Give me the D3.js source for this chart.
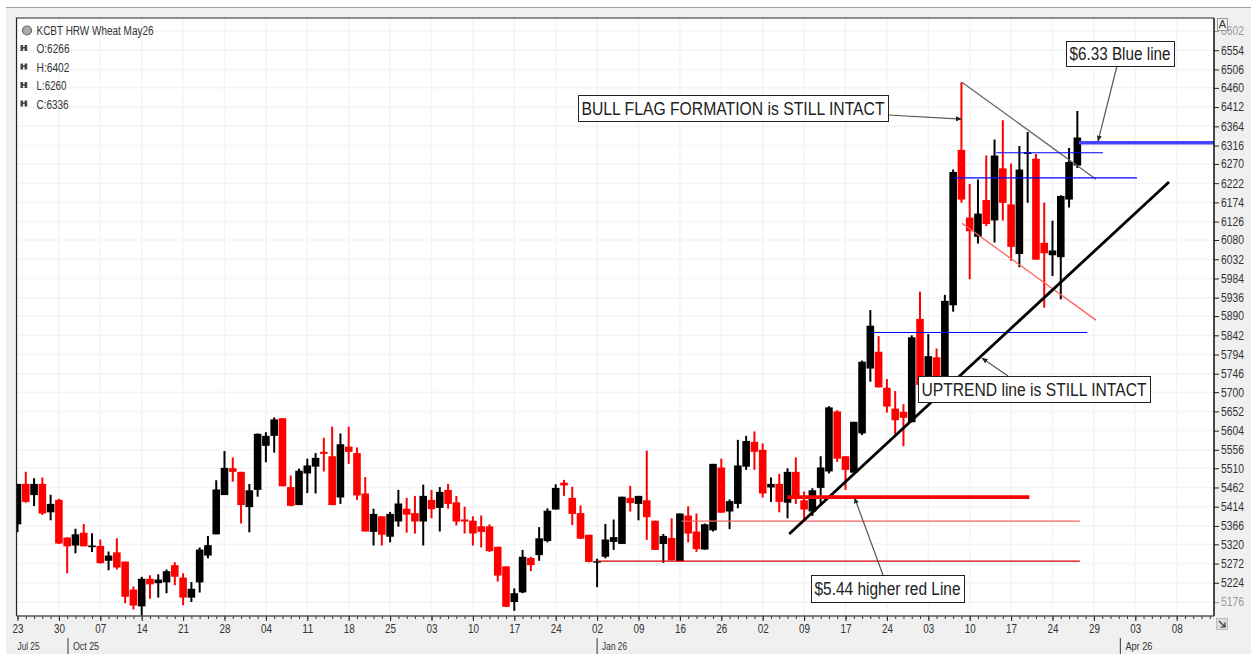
<!DOCTYPE html>
<html lang="en">

<head>
    <meta charset="UTF-8">
    <title>KCBT HRW Wheat May26</title>
    <style>
        html, body { margin: 0; padding: 0; background: #fff; }
        svg { display: block; }
        text { font-family: "Liberation Sans", sans-serif; }
    </style>
</head>

<body>
    <svg width="1251" height="654" id="svg"></svg>
    <script src="https://d3js.org/d3.v7.min.js"></script>
    <script>
        const opens = [5370,5471,5443,5471,5400,5431,5337,5317,5349,5313,5316,5279,5300,5277,5207,5165,5234,5223,5225,5268,5237,5187,5225,5292,5345,5443,5510,5501,5413,5456,5566,5591,5635,5463,5418,5497,5514,5551,5540,5437,5564,5548,5447,5351,5390,5339,5377,5409,5398,5377,5431,5411,5456,5425,5382,5379,5365,5365,5314,5265,5176,5200,5286,5293,5328,5407,5474,5436,5398,5344,5276,5289,5326,5321,5436,5421,5430,5379,5321,5336,5278,5392,5352,5307,5355,5512,5402,5421,5514,5576,5556,5462,5471,5424,5501,5430,5402,5461,5502,5652,5540,5499,5597,5759,5801,5711,5659,5651,5625,5883,5718,5787,5718,5917,6305,6136,6088,6180,6129,6259,6169,6045,6295,6283,6073,6042,6037,6181,6266]
        const highs = [5471,5501,5485,5487,5444,5434,5337,5359,5371,5348,5332,5302,5335,5277,5215,5239,5243,5245,5257,5275,5248,5226,5312,5341,5480,5553,5537,5501,5471,5597,5600,5637,5635,5492,5509,5534,5548,5586,5614,5597,5614,5562,5488,5409,5390,5401,5456,5436,5441,5469,5456,5463,5471,5441,5414,5390,5392,5370,5314,5265,5210,5306,5289,5363,5410,5470,5481,5464,5417,5344,5284,5371,5382,5439,5466,5441,5554,5379,5346,5385,5397,5415,5397,5372,5521,5534,5432,5581,5591,5602,5572,5487,5496,5510,5537,5452,5460,5540,5665,5655,5540,5626,5779,5905,5840,5733,5703,5670,5842,5951,5845,5809,5943,6256,6474,6220,6231,6291,6331,6379,6271,6315,6350,6295,6174,6128,6192,6310,6402]
        const lows = [5350,5424,5416,5393,5380,5321,5248,5298,5315,5301,5272,5255,5257,5173,5157,5141,5184,5187,5198,5218,5168,5176,5200,5285,5345,5443,5476,5372,5350,5439,5525,5549,5465,5415,5418,5448,5447,5502,5418,5421,5521,5431,5352,5317,5317,5325,5364,5349,5347,5317,5385,5352,5409,5367,5347,5317,5312,5301,5227,5164,5154,5198,5253,5279,5325,5407,5441,5368,5334,5275,5213,5285,5306,5321,5402,5380,5331,5306,5274,5280,5278,5325,5301,5307,5352,5399,5358,5410,5506,5506,5437,5426,5400,5385,5421,5381,5391,5418,5497,5526,5456,5499,5593,5726,5712,5649,5595,5565,5625,5718,5718,5718,5718,5901,6173,5982,6071,6115,6074,6129,6028,6012,6173,6031,5911,5990,5932,6161,6260]
        const closes = [5471,5426,5471,5397,5421,5322,5315,5345,5315,5317,5273,5292,5262,5189,5167,5234,5220,5232,5253,5239,5187,5209,5307,5318,5457,5511,5501,5418,5455,5596,5591,5632,5465,5416,5504,5517,5536,5546,5418,5570,5551,5442,5352,5396,5344,5396,5422,5394,5377,5441,5408,5451,5421,5377,5377,5347,5351,5303,5242,5164,5198,5289,5268,5335,5404,5461,5467,5396,5334,5276,5278,5332,5338,5439,5423,5441,5388,5306,5341,5280,5397,5347,5308,5370,5521,5399,5428,5517,5578,5551,5447,5471,5426,5501,5434,5407,5455,5512,5662,5534,5506,5626,5776,5866,5712,5664,5630,5636,5837,5718,5790,5718,5928,6250,6181,6102,6146,6120,6291,6173,6063,6256,6299,6031,6047,6054,6190,6275,6336]

        const priceTicks = [6602,6554,6506,6460,6412,6364,6316,6270,6222,6174,6126,6080,6032,5984,5936,5890,5842,5794,5746,5700,5652,5604,5556,5510,5462,5414,5366,5320,5272,5224,5176]
        const dayLabels = ["23","30","07","14","21","28","04","11","18","25","03","10","17","24","02","09","16","26","02","09","17","24","03","10","17","24","29","03","08"]
        const monthLabels = ["Jul 25", "Oct 25", "Jan 26", "Apr 26"]
        const monthSessions = [-0.6, 6.1, 70, 133.2]

        // [session, price, session, price]
        const blueLevels = [[103.1, 5849, 129.2, 5849], [113.1, 6235, 135.2, 6235], [118.2, 6298, 131.1, 6298]]
        const blueThick = [128.2, 6323, 144.5, 6323]
        const redThin = [[70, 5278, 128.3, 5278]]
        const redFaint = [[80.2, 5378, 128.3, 5378], [114.06, 6122, 130.25, 5880]]
        const redThick = [93, 5438, 122.2, 5438]
        const flagTop = [114.06, 6474, 130.25, 6232]
        const uptrend = [93.2, 5346, 139.07, 6225]

        const svg = d3.select("svg#svg")
        const width = +svg.attr("width")
        const height = +svg.attr("height")
        const plot = { left: 16.5, right: 1214, top: 18, bottom: 616 }

        const xScale = d3.scaleLinear().domain([0, 144.5]).range([17.5, 17.5 + 8.28 * 144.5])
        const yScale = d3.scaleLinear().domain([5176, 6602]).range([602, 31])

        // the reference text is narrower than any installed face, so squeeze it to the measured width
        const squeeze = (sel, w) => sel.attr("textLength", w).attr("lengthAdjust", "spacingAndGlyphs")

        svg.append("rect").attr("x", 6).attr("y", 7).attr("width", width - 6).attr("height", height - 7).attr("fill", "#f0f0f0")
        svg.append("line").attr("x1", 6).attr("x2", width).attr("y1", 7.5).attr("y2", 7.5).attr("stroke", "#a0a0a0")
        svg.append("rect").attr("x", plot.left).attr("y", plot.top).attr("width", plot.right - plot.left).attr("height", plot.bottom - plot.top).attr("fill", "#fff")
        svg.append("clipPath").attr("id", "plotClip").append("rect").attr("x", plot.left).attr("y", plot.top).attr("width", plot.right - plot.left).attr("height", plot.bottom - plot.top)

        // grid
        const grid = svg.append("g").attr("stroke", "#f4f4f4").attr("stroke-width", 1.5)
        grid.selectAll(".gy").data(priceTicks).join("line").attr("x1", plot.left).attr("x2", plot.right).attr("y1", d => yScale(d)).attr("y2", d => yScale(d))
        grid.selectAll(".gx").data(dayLabels).join("line").attr("y1", plot.top).attr("y2", plot.bottom).attr("x1", (d, i) => xScale(i * 5)).attr("x2", (d, i) => xScale(i * 5))

        // candles
        const sessions = d3.range(closes.length)
        const colour = i => closes[i] >= opens[i] ? "#000" : "#ff0000"
        const candles = svg.append("g").attr("clip-path", "url(#plotClip)")
        candles.selectAll(".wick").data(sessions).join("line")
            .attr("x1", i => xScale(i)).attr("x2", i => xScale(i))
            .attr("y1", i => yScale(highs[i])).attr("y2", i => yScale(lows[i]))
            .attr("stroke", colour).attr("stroke-width", 2)
        candles.selectAll(".body").data(sessions).join("rect")
            .attr("x", i => xScale(i) - 3.8).attr("width", 7.6)
            .attr("y", i => yScale(Math.max(opens[i], closes[i])))
            .attr("height", i => Math.max(1.5, Math.abs(yScale(opens[i]) - yScale(closes[i]))))
            .attr("fill", colour)

        // drawn lines
        const drawLine = (p, stroke, w) => svg.append("line")
            .attr("x1", xScale(p[0])).attr("y1", yScale(p[1]))
            .attr("x2", xScale(p[2])).attr("y2", yScale(p[3]))
            .attr("stroke", stroke).attr("stroke-width", w)
        redThin.forEach(p => drawLine(p, "#d40000", 1.3))
        redFaint.forEach(p => drawLine(p, "#ff6060", 1.3))
        drawLine(flagTop, "#666", 1.3)
        blueLevels.forEach(p => drawLine(p, "#0000ff", 1.2))
        drawLine(uptrend, "#000", 2.8)
        drawLine(redThick, "#ff0000", 3.6)
        drawLine(blueThick, "#4444ff", 3.4)

        // axes
        const yAxis = d3.axisRight(yScale).tickValues(priceTicks).tickSize(5).tickPadding(2).tickFormat(d3.format("d"))
        const yg = svg.append("g").attr("transform", `translate(${plot.right},0)`).call(yAxis)
        yg.select(".domain").remove()
        yg.selectAll("text").attr("font-size", 12).attr("fill", d => d === 6602 || d === 5176 ? "#999" : "#333").call(squeeze, 23)
        yg.selectAll("line").attr("stroke", d => d === 6602 || d === 5176 ? "#999" : "#222")

        const minorAxis = d3.axisBottom(xScale).tickValues(d3.range(0, 145)).tickSize(3).tickFormat("")
        const mg = svg.append("g").attr("transform", `translate(0,${plot.bottom})`).call(minorAxis)
        mg.select(".domain").remove()
        mg.selectAll("line").attr("stroke", "#333")
        const xAxis = d3.axisBottom(xScale).tickValues(dayLabels.map((d, i) => i * 5)).tickSize(5).tickPadding(3).tickFormat(d => dayLabels[d / 5])
        const xg = svg.append("g").attr("transform", `translate(0,${plot.bottom})`).call(xAxis)
        xg.select(".domain").remove()
        xg.selectAll("line").attr("stroke", "#222")
        xg.selectAll("text").attr("font-size", 12).attr("fill", "#333").call(squeeze, 11)

        // plot frame
        svg.append("path").attr("d", `M${plot.left},${plot.bottom}V${plot.top}H${plot.right}`).attr("fill", "none").attr("stroke", "#222").attr("stroke-width", 1.2)
        svg.append("path").attr("d", `M${plot.right},${plot.top}V${plot.bottom}`).attr("fill", "none").attr("stroke", "#111").attr("stroke-width", 1.5)
        svg.append("path").attr("d", `M${plot.left},${plot.bottom}H${plot.right}`).attr("fill", "none").attr("stroke", "#555").attr("stroke-width", 1.6)

        // month row
        const monthWidths = [22, 26, 25, 27]
        monthLabels.forEach((m, i) => {
            const mx = xScale(monthSessions[i])
            if (i > 0) svg.append("line").attr("x1", mx).attr("x2", mx).attr("y1", 638).attr("y2", 654).attr("stroke", "#555").attr("stroke-width", 1.2)
            svg.append("text").attr("x", mx + 5).attr("y", 650).attr("font-size", 11.5).attr("fill", "#333").call(squeeze, monthWidths[i]).text(m)
        })

        // legend
        const lastIdx = closes.length - 1
        const legendRows = ["O:" + opens[lastIdx], "H:" + highs[lastIdx], "L:" + lows[lastIdx], "C:" + closes[lastIdx]]
        const legendWidths = [33, 33, 30, 32]
        svg.append("circle").attr("cx", 27).attr("cy", 30.5).attr("r", 4.5).attr("fill", "#aaa").attr("stroke", "#666").attr("stroke-width", 1.2)
        svg.append("text").attr("x", 36.5).attr("y", 34.5).attr("font-size", 12).attr("fill", "#333").call(squeeze, 117).text("KCBT HRW Wheat May26")
        legendRows.forEach((t, i) => {
            const ly = 48.5 + i * 18.5
            const icon = svg.append("g").attr("fill", "#444")
            icon.append("rect").attr("x", 20.5).attr("y", ly - 3.5).attr("width", 2.6).attr("height", 6)
            icon.append("rect").attr("x", 24.6).attr("y", ly - 3.5).attr("width", 2.6).attr("height", 6)
            icon.append("rect").attr("x", 22.5).attr("y", ly - 1.5).attr("width", 3).attr("height", 1.5)
            svg.append("text").attr("x", 36.5).attr("y", ly + 4.5).attr("font-size", 12).attr("fill", "#333").call(squeeze, legendWidths[i]).text(t)
        })

        // corner buttons
        const btnA = svg.append("g")
        btnA.append("rect").attr("x", 1217.5).attr("y", 18.5).attr("width", 10).attr("height", 12).attr("fill", "#f0f0f0").attr("stroke", "#999")
        btnA.append("text").attr("x", 1222.5).attr("y", 28).attr("text-anchor", "middle").attr("font-size", 11).attr("fill", "#333").text("A")
        const btnR = svg.append("g")
        btnR.append("rect").attr("x", 1216.5).attr("y", 618.5).attr("width", 11).attr("height", 11).attr("fill", "#ddd").attr("stroke", "#bbb")
        btnR.append("path").attr("d", "M1219,621L1225,627M1225,622.5V627H1220.5").attr("fill", "none").attr("stroke", "#333").attr("stroke-width", 1.2)

        // callouts
        svg.append("defs").append("marker").attr("id", "tip").attr("viewBox", "0 0 6 6").attr("refX", 5.5).attr("refY", 3)
            .attr("markerWidth", 5).attr("markerHeight", 5).attr("orient", "auto")
            .append("path").attr("d", "M0,0.5L6,3L0,5.5Z").attr("fill", "#222")
        const callouts = [
            { label: "BULL FLAG FORMATION is STILL INTACT", box: [578, 95, 310, 26], from: [888, 115], tip: [114, 6382] },
            { label: "$6.33 Blue line", box: [1066, 41, 108, 25], from: [1117, 66], tip: [130.5, 6327] },
            { label: "UPTREND line is STILL INTACT", box: [918, 376, 232, 26], from: [1008, 376], tip: [116.5, 5785] },
            { label: "$5.44 higher red Line", box: [811, 575, 153, 27], from: [883, 575], tip: [101.1, 5436] }
        ]
        callouts.forEach(c => {
            svg.append("line").attr("x1", c.from[0]).attr("y1", c.from[1])
                .attr("x2", xScale(c.tip[0])).attr("y2", yScale(c.tip[1]))
                .attr("stroke", "#555").attr("stroke-width", 1.2).attr("marker-end", "url(#tip)")
            svg.append("rect").attr("x", c.box[0] + 0.5).attr("y", c.box[1] + 0.5).attr("width", c.box[2]).attr("height", c.box[3])
                .attr("fill", "#fff").attr("stroke", "#222").attr("stroke-width", 1)
            svg.append("text").attr("x", c.box[0] + c.box[2] / 2).attr("y", c.box[1] + c.box[3] / 2 + 6.5)
                .attr("text-anchor", "middle").attr("font-size", 18).attr("fill", "#222")
                .call(squeeze, c.box[2] - 7).text(c.label)
        })
    </script>
</body>

</html>
